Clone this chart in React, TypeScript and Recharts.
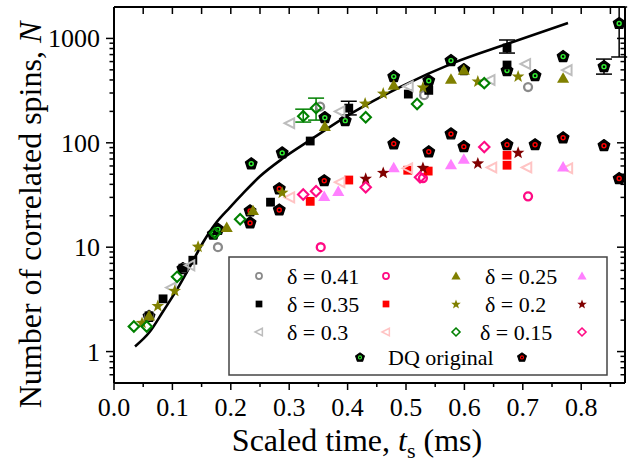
import React from 'react';
import { ComposedChart, XAxis, YAxis, Scatter, Line, ErrorBar, Customized } from 'recharts';

const FONT = '"Liberation Serif", "Times New Roman", Times, serif';

// ---- axis ticks ----
const xMajorTicks = [0, 0.1, 0.2, 0.3, 0.4, 0.5, 0.6, 0.7, 0.8];
const xTickLabels = ['0.0', '0.1', '0.2', '0.3', '0.4', '0.5', '0.6', '0.7', '0.8'];
const xMinorTicks = [0.05, 0.15, 0.25, 0.35, 0.45, 0.55, 0.65, 0.75, 0.85];
const yMajorTicks = [1, 10, 100, 1000];
const yTickLabels = ['1', '10', '100', '1000'];
const yMinorTicks = [0.6, 0.7, 0.8, 0.9, 2, 3, 4, 5, 6, 7, 8, 9, 20, 30, 40, 50, 60, 70, 80, 90, 200, 300, 400, 500, 600, 700, 800, 900];

const legendLabels = ['δ = 0.41', 'δ = 0.35', 'δ = 0.3', 'δ = 0.25', 'δ = 0.2', 'δ = 0.15', 'DQ original'];

type Pt = [number, number, [number, number]?];

// ---- fit curve ----
const fitX = [0.036, 0.0616, 0.0839, 0.1079, 0.1301, 0.1524, 0.1729, 0.1986, 0.2209, 0.25, 0.2894, 0.3356, 0.4041, 0.4897, 0.5805, 0.6729, 0.7774];
const fitN = [1.12, 1.556, 2.42, 3.94, 6.54, 11.1, 16.6, 24.1, 32.8, 47.8, 71.2, 105.9, 188, 342, 580, 884, 1406];

// ---- upper branch ----
const dqGreen: Pt[] = [[0.06, 2.2], [0.118, 6.3], [0.17, 13.5], [0.178, 15], [0.235, 63.7], [0.288, 81], [0.361, 176], [0.396, 165], [0.479, 436], [0.539, 398], [0.577, 621], [0.599, 508], [0.673, 498], [0.721, 445], [0.769, 678], [0.839, 543, [88, 91]], [0.865, 1406, [742, 594]]];
const circ41: Pt[] = [[0.06, 2.2], [0.12, 6.3], [0.178, 10], [0.353, 222], [0.531, 286], [0.709, 342]];
const sq35: Pt[] = [[0.06, 2.2], [0.084, 3.2], [0.118, 6.3], [0.135, 7.5], [0.268, 27], [0.336, 104], [0.402, 215, [30, 35]], [0.504, 293], [0.539, 318], [0.673, 556], [0.673, 809, [85, 157]]];
const tri30: Pt[] = [[0.098, 4.1], [0.13, 6.7], [0.301, 154], [0.387, 200], [0.504, 348], [0.644, 400], [0.705, 569], [0.776, 497]];
const up25: Pt[] = [[0.06, 2.2], [0.193, 15.5], [0.238, 22.5], [0.361, 144], [0.479, 357], [0.577, 408], [0.599, 497], [0.769, 417]];
const star20: Pt[] = [[0.048, 1.9], [0.075, 2.76], [0.104, 3.85], [0.144, 10.2], [0.288, 33.6], [0.43, 240], [0.461, 299], [0.529, 342], [0.623, 390], [0.692, 436]];
const dia15: Pt[] = [[0.034, 1.74], [0.056, 1.74], [0.108, 5.2], [0.173, 13.6], [0.216, 18.5], [0.324, 180, [22, 30]], [0.346, 215, [50, 53]], [0.431, 176], [0.519, 235], [0.634, 373]];

// ---- lower branch ----
const dqRed: Pt[] = [[0.233, 22.5], [0.233, 17.3], [0.283, 36.7], [0.283, 23], [0.36, 43.8], [0.479, 99], [0.539, 83], [0.577, 123], [0.599, 93], [0.673, 97], [0.721, 97], [0.769, 113], [0.839, 95], [0.865, 46]];
const circ41L: Pt[] = [[0.354, 10], [0.529, 46], [0.709, 30.7]];
const sq35L: Pt[] = [[0.336, 27.5], [0.402, 44], [0.503, 54.6], [0.538, 53.6], [0.673, 76], [0.673, 61]];
const tri30L: Pt[] = [[0.301, 30], [0.387, 41.9], [0.503, 57], [0.647, 58], [0.707, 58], [0.777, 57]];
const up25L: Pt[] = [[0.36, 30.7], [0.384, 34.3], [0.479, 58], [0.577, 62], [0.599, 70], [0.769, 59]];
const star20L: Pt[] = [[0.431, 45.7], [0.461, 52], [0.529, 58], [0.623, 64], [0.692, 81]];
const dia15L: Pt[] = [[0.324, 32], [0.346, 34.3], [0.431, 37.5], [0.524, 46.8], [0.634, 91]];

const toRows = (pts: Pt[]) => pts.map(([x, y, e]) => ({ x, y, err: e }));
const fitRows = fitX.map((x, i) => ({ x, y: fitN[i] }));

type Kind = 'circle' | 'square' | 'triLeft' | 'triUp' | 'star' | 'diamond' | 'pent';
interface Meta { kind: Kind; color: string; }

const M: Record<string, Meta> = {
  o41: { kind: 'circle', color: '#8a8a8a' },
  o41L: { kind: 'circle', color: '#ff0a84' },
  s35: { kind: 'square', color: '#000000' },
  s35L: { kind: 'square', color: '#ff0000' },
  t30: { kind: 'triLeft', color: '#bdbdbd' },
  t30L: { kind: 'triLeft', color: '#ffc4c4' },
  u25: { kind: 'triUp', color: '#808000' },
  u25L: { kind: 'triUp', color: '#ff80ff' },
  st20: { kind: 'star', color: '#808000' },
  st20L: { kind: 'star', color: '#800000' },
  d15: { kind: 'diamond', color: '#008000' },
  d15L: { kind: 'diamond', color: '#ff0a84' },
  dqG: { kind: 'pent', color: '#33ee33' },
  dqR: { kind: 'pent', color: '#ff0000' },
};

const pts = (arr: number[][]) => arr.map((p) => p.join(',')).join(' ');

function Marker({ kind, cx, cy, color, s }: { kind: Kind; cx: number; cy: number; color: string; s: number }) {
  if (cx == null || cy == null || isNaN(cx) || isNaN(cy)) return <g />;
  switch (kind) {
    case 'circle':
      return <circle cx={cx} cy={cy} r={s * 0.72} fill="none" stroke={color} strokeWidth={s * 0.42} />;
    case 'square':
      return <rect x={cx - s * 0.8} y={cy - s * 0.8} width={s * 1.6} height={s * 1.6} fill={color} />;
    case 'triLeft':
      return (
        <polygon
          points={pts([[cx - s * 0.95, cy], [cx + s * 0.8, cy - s * 0.9], [cx + s * 0.8, cy + s * 0.9]])}
          fill="none" stroke={color} strokeWidth={s * 0.36}
        />
      );
    case 'triUp':
      return <polygon points={pts([[cx, cy - s * 1.05], [cx + s * 1.1, cy + s * 0.85], [cx - s * 1.1, cy + s * 0.85]])} fill={color} />;
    case 'star': {
      const arr: number[][] = [];
      for (let i = 0; i < 10; i++) {
        const r = i % 2 === 0 ? s * 1.2 : s * 0.5;
        const a = -Math.PI / 2 + (i * Math.PI) / 5;
        arr.push([cx + r * Math.cos(a), cy + 0.1 * s + r * Math.sin(a)]);
      }
      return <polygon points={pts(arr)} fill={color} />;
    }
    case 'diamond':
      return (
        <polygon
          points={pts([[cx, cy - s * 0.95], [cx + s * 0.95, cy], [cx, cy + s * 0.95], [cx - s * 0.95, cy]])}
          fill="none" stroke={color} strokeWidth={s * 0.38}
        />
      );
    case 'pent': {
      const arr: number[][] = [];
      for (let i = 0; i < 5; i++) {
        const a = -Math.PI / 2 + (i * 2 * Math.PI) / 5;
        arr.push([cx + s * 1.1 * Math.cos(a), cy + s * 0.1 + s * 1.1 * Math.sin(a)]);
      }
      return (
        <g>
          <polygon points={pts(arr)} fill="#000" stroke="#000" strokeWidth={s * 0.25} strokeLinejoin="round" />
          <circle cx={cx} cy={cy + s * 0.1} r={s * 0.36} fill="none" stroke={color} strokeWidth={s * 0.26} />
        </g>
      );
    }
  }
  return <g />;
}

const near = (arr: number[], v: number) => arr.findIndex((t) => Math.abs(t - v) < 1e-9);

const BottomTick = (p: any) => {
  const { x, y, payload } = p;
  const idx = near(xMajorTicks, payload.value);
  return (
    <g>
      <line x1={x} x2={x} y1={y} y2={y + (idx >= 0 ? 7 : 4)} stroke="#000" strokeWidth={1.5} />
      {idx >= 0 && (
        <text x={x} y={y + 33} textAnchor="middle" fontSize={26} fontFamily={FONT} fill="#000">{xTickLabels[idx]}</text>
      )}
    </g>
  );
};

const TopTick = (p: any) => {
  const { x, y } = p;
  return <line x1={x} x2={x} y1={y} y2={y + 7} stroke="#000" strokeWidth={1.5} />;
};

const LeftTick = (p: any) => {
  const { x, y, payload } = p;
  const idx = near(yMajorTicks, payload.value);
  return (
    <g>
      <line x1={x} x2={x - (idx >= 0 ? 8 : 4.5)} y1={y} y2={y} stroke="#000" strokeWidth={1.5} />
      {idx >= 0 && (
        <text x={x - 14} y={y + 9} textAnchor="end" fontSize={26} fontFamily={FONT} fill="#000">{yTickLabels[idx]}</text>
      )}
    </g>
  );
};

const RightTick = (p: any) => {
  const { x, y, payload } = p;
  const idx = near(yMajorTicks, payload.value);
  return <line x1={x} x2={x - (idx >= 0 ? 8 : 4.5)} y1={y} y2={y} stroke="#000" strokeWidth={1.5} />;
};

const LegendBox = () => {
  const rows = [276, 304, 332];
  const left = [['o41', 'o41L'], ['s35', 's35L'], ['t30', 't30L']];
  const right = [['u25', 'u25L'], ['st20', 'st20L'], ['d15', 'd15L']];
  const rightTextX = [485, 485, 480];
  const ls = 4.2;
  return (
    <g>
      <rect x={229} y={257} width={378} height={118} fill="#fff" stroke="#444" strokeWidth={1.5} />
      {rows.map((ry, i) => (
        <g key={i}>
          <Marker kind={M[left[i][0]].kind} color={M[left[i][0]].color} cx={259} cy={ry} s={ls} />
          <text x={287} y={ry + 8} fontSize={22} fontFamily={FONT} fill="#000">{legendLabels[i]}</text>
          <Marker kind={M[left[i][1]].kind} color={M[left[i][1]].color} cx={386} cy={ry} s={ls} />
          <Marker kind={M[right[i][0]].kind} color={M[right[i][0]].color} cx={456} cy={ry} s={ls} />
          <text x={rightTextX[i]} y={ry + 8} fontSize={22} fontFamily={FONT} fill="#000">{legendLabels[i + 3]}</text>
          <Marker kind={M[right[i][1]].kind} color={M[right[i][1]].color} cx={582} cy={ry} s={ls} />
        </g>
      ))}
      <Marker kind="pent" color={M.dqG.color} cx={360} cy={357} s={ls} />
      <text x={388} y={365} fontSize={22} fontFamily={FONT} fill="#000">{legendLabels[6]}</text>
      <Marker kind="pent" color={M.dqR.color} cx={522} cy={357} s={ls} />
    </g>
  );
};

const Overlay = () => (
  <g fontFamily={FONT} fill="#000">
    <text transform="translate(41,215) rotate(-90)" textAnchor="middle" fontSize={32} fontFamily={FONT}>
      Number of correlated spins, <tspan fontStyle="italic">N</tspan>
    </text>
    <text x={357} y={451} textAnchor="middle" fontSize={32} fontFamily={FONT}>
      Scaled time, <tspan fontStyle="italic">t</tspan>
      <tspan fontSize={22} dy={7}>s</tspan>
      <tspan dy={-7}> (ms)</tspan>
    </text>
    <LegendBox />
  </g>
);

const seriesOrder: [string, Pt[], string][] = [
  ['dqG', dqGreen, '#000'],
  ['dqR', dqRed, '#000'],
  ['o41', circ41, '#8a8a8a'],
  ['o41L', circ41L, '#ff0a84'],
  ['s35', sq35, '#000'],
  ['s35L', sq35L, '#ff0000'],
  ['t30', tri30, '#bdbdbd'],
  ['t30L', tri30L, '#ffc4c4'],
  ['u25', up25, '#808000'],
  ['u25L', up25L, '#ff80ff'],
  ['st20', star20, '#808000'],
  ['st20L', star20L, '#800000'],
  ['d15', dia15, '#008000'],
  ['d15L', dia15L, '#ff0a84'],
];

export default function App() {
  const axisLine = { stroke: '#000', strokeWidth: 2 };
  return (
    <div style={{ position: 'absolute', left: 0, top: 0, width: 639, height: 464, background: '#fff' }}>
      <ComposedChart width={639} height={464} margin={{ top: 0, right: 0, bottom: 0, left: 0 }}>
        <XAxis
          xAxisId="b" dataKey="x" type="number" domain={[0, 0.875]} allowDataOverflow
          ticks={[...xMajorTicks, ...xMinorTicks]} interval={0} tickSize={0} tickMargin={0}
          tickLine={false} axisLine={axisLine} height={81} tick={(p: any) => <BottomTick {...p} />}
        />
        <XAxis
          xAxisId="t" orientation="top" dataKey="x" type="number" domain={[0, 0.875]} allowDataOverflow
          ticks={[...xMajorTicks, ...xMinorTicks]} interval={0} tickSize={0} tickMargin={0}
          tickLine={false} axisLine={axisLine} height={7} tick={(p: any) => <TopTick {...p} />}
        />
        <YAxis
          yAxisId="l" dataKey="y" type="number" scale="log" domain={[0.5, 2000]} allowDataOverflow
          ticks={[...yMajorTicks, ...yMinorTicks]} interval={0} tickSize={0} tickMargin={0}
          tickLine={false} axisLine={axisLine} width={114} tick={(p: any) => <LeftTick {...p} />}
        />
        <YAxis
          yAxisId="r" orientation="right" dataKey="y" type="number" scale="log" domain={[0.5, 2000]} allowDataOverflow
          ticks={[...yMajorTicks, ...yMinorTicks]} interval={0} tickSize={0} tickMargin={0}
          tickLine={false} axisLine={axisLine} width={14} tick={(p: any) => <RightTick {...p} />}
        />
        <Scatter xAxisId="t" yAxisId="r" data={fitRows} shape={() => <g />} isAnimationActive={false} />
        <Line
          xAxisId="b" yAxisId="l" data={fitRows} dataKey="y" type="monotone" stroke="#000"
          strokeWidth={2.6} dot={false} activeDot={false} isAnimationActive={false}
        />
        {seriesOrder.map(([key, data, errColor]) => (
          <Scatter
            key={key} xAxisId="b" yAxisId="l" data={toRows(data)} dataKey="y" isAnimationActive={false}
            shape={(p: any) => <Marker kind={M[key].kind} color={M[key].color} cx={p.cx} cy={p.cy} s={5.5} />}
          >
            <ErrorBar dataKey="err" direction="y" width={8} stroke={errColor} strokeWidth={1.5} />
          </Scatter>
        ))}
        <Customized component={Overlay} />
      </ComposedChart>
    </div>
  );
}
